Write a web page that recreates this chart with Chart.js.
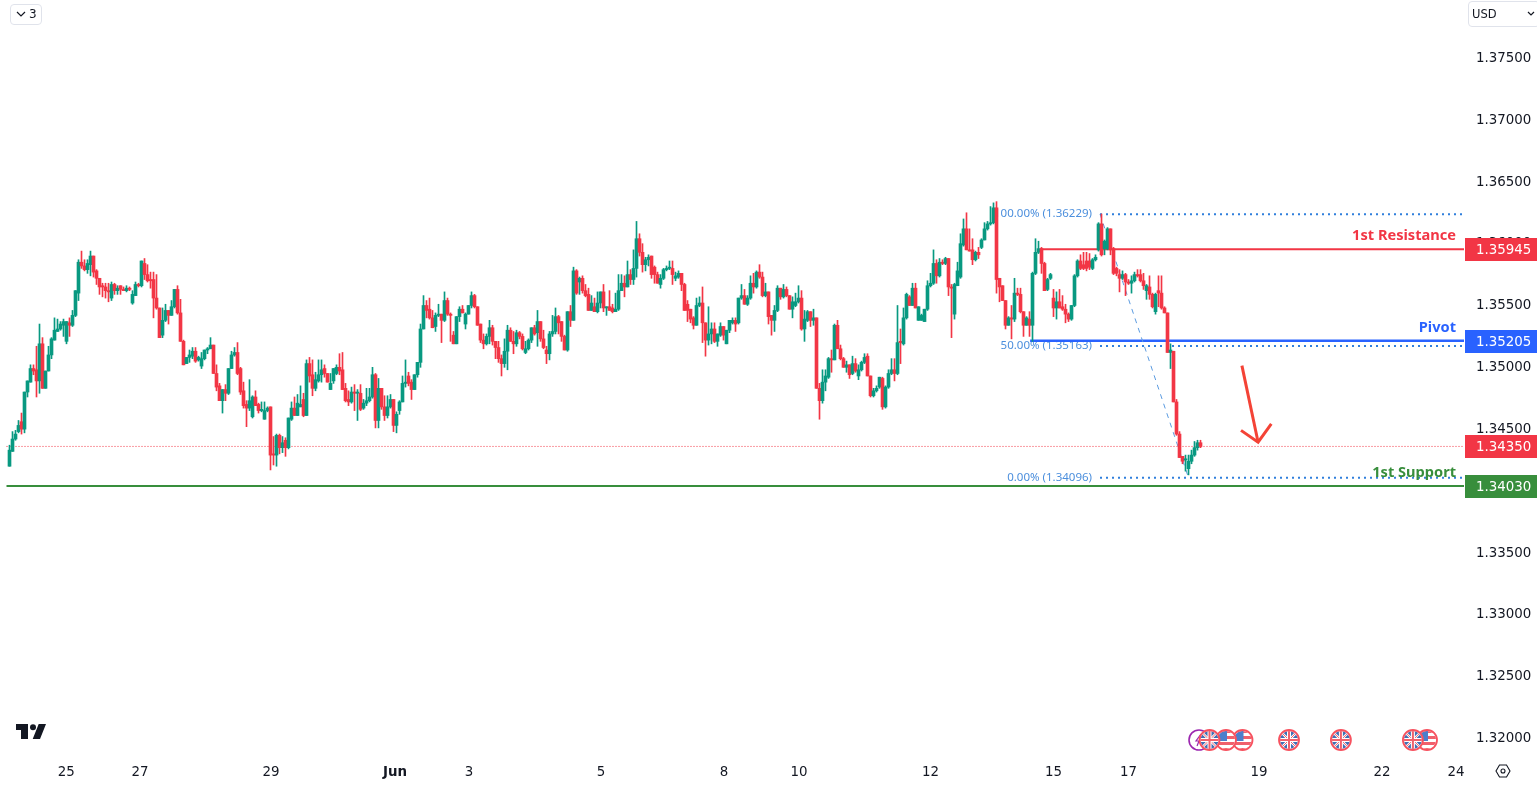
<!DOCTYPE html>
<html><head><meta charset="utf-8">
<script src="https://cdn.jsdelivr.net/npm/chart.js@4"></script>
<style>
html,body{margin:0;padding:0;background:#fff;overflow:hidden}
#wrap{position:relative;width:1537px;height:785px}
canvas{position:absolute;left:0;top:0}
.ov{position:absolute;font-family:"DejaVu Sans",sans-serif;color:#131722;box-sizing:border-box}
</style></head><body><div id="wrap"><canvas id="c" width="1537" height="785" style="width:1537px;height:785px"></canvas>
<div class="ov" style="left:10px;top:4px;width:32px;height:21px;border:1px solid #e0e3eb;border-radius:4px;font-size:12px;line-height:19px;padding-left:18px">3</div>
<svg class="ov" style="left:15px;top:10px" width="12" height="8"><path d="M2 2 L6 6 L10 2" fill="none" stroke="#131722" stroke-width="1.2"/></svg>
<div class="ov" style="left:1468px;top:1px;width:72px;height:26px;border:1px solid #e0e3eb;border-radius:4px;font-size:11.5px;line-height:24px;padding-left:3px">USD</div>
<svg class="ov" style="left:1526px;top:10px" width="10" height="8"><path d="M2 2 L5 5 L8 2" fill="none" stroke="#131722" stroke-width="1.2"/></svg>
<svg class="ov" style="left:16px;top:724px" width="31" height="16"><path d="M0 0H12V15H5V6H0Z M22.7 0H30L24 15H16.7Z" fill="#131722"/><circle cx="17" cy="3.2" r="3" fill="#131722"/></svg>
<svg class="ov" style="left:1495px;top:763px" width="16" height="16"><path d="M4.5 2H11.5L15 8L11.5 14H4.5L1 8Z" fill="none" stroke="#131722" stroke-width="1.1"/><circle cx="8" cy="8" r="2" fill="none" stroke="#131722" stroke-width="1.1"/></svg>
</div>
<script>
const opens=[
1.3419,1.3431,1.3441,1.3447,1.3455,1.3449,1.3479,1.3487,1.3498,1.3497,
1.3488,1.3518,1.3482,1.3496,1.3509,1.3521,1.3528,1.3530,1.3533,1.3520,
1.3535,1.3533,1.3541,1.3559,1.3584,1.3581,1.3578,1.3582,1.3589,1.3577,
1.3571,1.3565,1.3564,1.3561,1.3555,1.3566,1.3561,1.3565,1.3562,1.3561,
1.3563,1.3551,1.3557,1.3566,1.3565,1.3583,1.3574,1.3570,1.3570,1.3555,
1.3547,1.3525,1.3537,1.3545,1.3541,1.3548,1.3562,1.3543,1.3520,1.3502,
1.3507,1.3508,1.3512,1.3505,1.3500,1.3506,1.3513,1.3514,1.3517,1.3494,
1.3484,1.3472,1.3481,1.3478,1.3498,1.3509,1.3511,1.3498,1.3480,1.3469,
1.3466,1.3459,1.3475,1.3469,1.3464,1.3457,1.3464,1.3467,1.3429,1.3428,
1.3444,1.3434,1.3440,1.3434,1.3457,1.3466,1.3460,1.3467,1.3473,1.3460,
1.3502,1.3493,1.3482,1.3488,1.3493,1.3498,1.3494,1.3481,1.3488,1.3494,
1.3499,1.3497,1.3482,1.3473,1.3471,1.3479,1.3478,1.3478,1.3466,1.3470,
1.3472,1.3475,1.3493,1.3456,1.3482,1.3467,1.3460,1.3467,1.3473,1.3452,
1.3464,1.3471,1.3486,1.3492,1.3487,1.3481,1.3493,1.3503,1.3530,1.3549,
1.3546,1.3539,1.3532,1.3541,1.3542,1.3537,1.3553,1.3542,1.3525,1.3518,
1.3540,1.3546,1.3534,1.3542,1.3549,1.3557,1.3548,1.3534,1.3521,1.3518,
1.3524,1.3531,1.3520,1.3515,1.3506,1.3502,1.3512,1.3529,1.3520,1.3518,
1.3527,1.3524,1.3511,1.3514,1.3521,1.3531,1.3527,1.3536,1.3522,1.3513,
1.3510,1.3526,1.3528,1.3540,1.3536,1.3524,1.3513,1.3544,1.3537,1.3577,
1.3568,1.3571,1.3561,1.3558,1.3545,1.3548,1.3544,1.3551,1.3560,1.3547,
1.3548,1.3547,1.3544,1.3546,1.3561,1.3567,1.3564,1.3574,1.3570,1.3579,
1.3603,1.3592,1.3582,1.3586,1.3589,1.3580,1.3574,1.3566,1.3571,1.3578,
1.3579,1.3579,1.3571,1.3572,1.3575,1.3566,1.3550,1.3546,1.3539,1.3533,
1.3549,1.3551,1.3535,1.3521,1.3526,1.3530,1.3520,1.3525,1.3532,1.3518,
1.3529,1.3535,1.3537,1.3535,1.3555,1.3557,1.3550,1.3555,1.3567,1.3564,
1.3576,1.3572,1.3557,1.3560,1.3541,1.3537,1.3545,1.3563,1.3556,1.3562,
1.3557,1.3546,1.3549,1.3552,1.3555,1.3530,1.3537,1.3544,1.3537,1.3539,
1.3482,1.3472,1.3487,1.3491,1.3506,1.3505,1.3533,1.3514,1.3506,1.3499,
1.3501,1.3494,1.3502,1.3492,1.3497,1.3503,1.3508,1.3492,1.3476,1.3480,
1.3483,1.3490,1.3467,1.3483,1.3494,1.3497,1.3494,1.3520,1.3518,1.3539,
1.3556,1.3549,1.3563,1.3537,1.3537,1.3536,1.3546,1.3565,1.3567,1.3583,
1.3573,1.3584,1.3583,1.3587,1.3564,1.3542,1.3565,1.3572,1.3598,1.3611,
1.3594,1.3594,1.3586,1.3592,1.3596,1.3602,1.3611,1.3615,1.3616,1.3628,
1.3571,1.3565,1.3553,1.3533,1.3539,1.3538,1.3559,1.3558,1.3544,1.3533,
1.3538,1.3533,1.3575,1.3592,1.3595,1.3583,1.3562,1.3571,1.3555,1.3547,
1.3552,1.3548,1.3546,1.3542,1.3538,1.3549,1.3573,1.3585,1.3582,1.3585,
1.3585,1.3579,1.3586,1.3594,1.3615,1.3595,1.3595,1.3611,1.3595,1.3579,
1.3574,1.3571,1.3574,1.3568,1.3567,1.3569,1.3574,1.3574,1.3569,1.3561,
1.3564,1.3558,1.3544,1.3561,1.3559,1.3547,1.3543,1.3511,1.3512,1.3471,
1.3445,1.3427,1.3424,1.3417,1.3423,1.3428,1.3434,1.3438];
const highs=[
1.3436,1.3447,1.3448,1.3456,1.3462,1.3479,1.3488,1.3501,1.3501,1.3516,
1.3534,1.3523,1.3496,1.3516,1.3523,1.3539,1.3538,1.3536,1.3538,1.3536,
1.3539,1.3545,1.3561,1.3586,1.3593,1.3586,1.3586,1.3593,1.3589,1.3578,
1.3571,1.3567,1.3567,1.3567,1.3568,1.3567,1.3565,1.3565,1.3564,1.3565,
1.3564,1.3561,1.3568,1.3567,1.3585,1.3587,1.3582,1.3576,1.3576,1.3574,
1.3547,1.3547,1.3550,1.3545,1.3553,1.3562,1.3565,1.3554,1.3521,1.3507,
1.3513,1.3515,1.3515,1.3508,1.3511,1.3513,1.3515,1.3523,1.3517,1.3501,
1.3486,1.3481,1.3485,1.3498,1.3512,1.3515,1.3519,1.3499,1.3487,1.3472,
1.3489,1.3476,1.3480,1.3470,1.3471,1.3471,1.3467,1.3467,1.3443,1.3445,
1.3445,1.3443,1.3442,1.3458,1.3471,1.3475,1.3477,1.3484,1.3478,1.3505,
1.3507,1.3505,1.3495,1.3505,1.3505,1.3501,1.3494,1.3494,1.3498,1.3501,
1.3510,1.3511,1.3486,1.3480,1.3483,1.3485,1.3481,1.3485,1.3473,1.3482,
1.3482,1.3499,1.3494,1.3490,1.3482,1.3476,1.3476,1.3477,1.3473,1.3463,
1.3472,1.3492,1.3505,1.3495,1.3489,1.3493,1.3503,1.3534,1.3557,1.3553,
1.3555,1.3545,1.3543,1.3550,1.3542,1.3560,1.3555,1.3543,1.3528,1.3540,
1.3548,1.3549,1.3543,1.3549,1.3560,1.3558,1.3548,1.3534,1.3526,1.3526,
1.3537,1.3533,1.3520,1.3520,1.3509,1.3522,1.3533,1.3531,1.3528,1.3529,
1.3528,1.3526,1.3520,1.3522,1.3531,1.3533,1.3545,1.3536,1.3529,1.3516,
1.3528,1.3541,1.3547,1.3541,1.3536,1.3525,1.3544,1.3549,1.3580,1.3578,
1.3572,1.3573,1.3566,1.3563,1.3557,1.3555,1.3560,1.3560,1.3566,1.3548,
1.3561,1.3550,1.3559,1.3574,1.3574,1.3573,1.3585,1.3578,1.3594,1.3617,
1.3607,1.3599,1.3588,1.3590,1.3589,1.3581,1.3576,1.3574,1.3579,1.3581,
1.3585,1.3585,1.3576,1.3577,1.3575,1.3567,1.3553,1.3546,1.3540,1.3555,
1.3556,1.3564,1.3535,1.3548,1.3535,1.3535,1.3526,1.3535,1.3532,1.3529,
1.3537,1.3539,1.3539,1.3555,1.3566,1.3562,1.3557,1.3573,1.3575,1.3577,
1.3582,1.3576,1.3567,1.3560,1.3541,1.3549,1.3565,1.3563,1.3566,1.3564,
1.3557,1.3556,1.3559,1.3565,1.3561,1.3545,1.3545,1.3544,1.3546,1.3539,
1.3486,1.3497,1.3497,1.3507,1.3513,1.3534,1.3537,1.3517,1.3507,1.3504,
1.3501,1.3508,1.3506,1.3501,1.3504,1.3510,1.3510,1.3492,1.3482,1.3484,
1.3491,1.3491,1.3484,1.3497,1.3506,1.3506,1.3549,1.3530,1.3547,1.3559,
1.3557,1.3567,1.3567,1.3548,1.3542,1.3546,1.3569,1.3575,1.3594,1.3586,
1.3587,1.3586,1.3588,1.3587,1.3566,1.3567,1.3584,1.3607,1.3619,1.3624,
1.3611,1.3603,1.3593,1.3596,1.3603,1.3616,1.3617,1.3629,1.3632,1.3633,
1.3571,1.3565,1.3553,1.3540,1.3549,1.3571,1.3563,1.3563,1.3544,1.3540,
1.3544,1.3576,1.3603,1.3601,1.3596,1.3584,1.3571,1.3575,1.3562,1.3560,
1.3562,1.3557,1.3550,1.3543,1.3549,1.3574,1.3586,1.3590,1.3592,1.3592,
1.3591,1.3587,1.3590,1.3616,1.3623,1.3602,1.3612,1.3611,1.3596,1.3580,
1.3578,1.3577,1.3575,1.3570,1.3573,1.3576,1.3578,1.3578,1.3575,1.3566,
1.3573,1.3559,1.3559,1.3573,1.3573,1.3548,1.3543,1.3518,1.3512,1.3473,
1.3447,1.3427,1.3428,1.3428,1.3432,1.3439,1.3440,1.3440];
const lows=[
1.3419,1.3431,1.3440,1.3446,1.3445,1.3446,1.3475,1.3487,1.3493,1.3475,
1.3478,1.3482,1.3482,1.3496,1.3506,1.3521,1.3528,1.3529,1.3524,1.3518,
1.3524,1.3532,1.3540,1.3553,1.3579,1.3577,1.3575,1.3573,1.3572,1.3566,
1.3558,1.3556,1.3555,1.3552,1.3553,1.3558,1.3558,1.3558,1.3561,1.3560,
1.3561,1.3550,1.3557,1.3564,1.3564,1.3570,1.3568,1.3563,1.3539,1.3546,
1.3523,1.3523,1.3536,1.3534,1.3541,1.3547,1.3542,1.3520,1.3501,1.3502,
1.3503,1.3506,1.3503,1.3504,1.3498,1.3505,1.3510,1.3514,1.3494,1.3480,
1.3472,1.3462,1.3472,1.3477,1.3498,1.3508,1.3493,1.3477,1.3466,1.3451,
1.3464,1.3458,1.3468,1.3462,1.3463,1.3457,1.3463,1.3416,1.3420,1.3419,
1.3429,1.3430,1.3427,1.3433,1.3456,1.3460,1.3460,1.3467,1.3459,1.3460,
1.3487,1.3476,1.3480,1.3487,1.3487,1.3491,1.3487,1.3481,1.3486,1.3493,
1.3493,1.3481,1.3471,1.3468,1.3470,1.3464,1.3456,1.3464,1.3465,1.3468,
1.3471,1.3474,1.3450,1.3450,1.3465,1.3456,1.3458,1.3466,1.3447,1.3446,
1.3461,1.3471,1.3483,1.3484,1.3473,1.3481,1.3491,1.3499,1.3530,1.3539,
1.3538,1.3531,1.3528,1.3540,1.3519,1.3536,1.3541,1.3520,1.3518,1.3518,
1.3536,1.3543,1.3530,1.3542,1.3547,1.3547,1.3533,1.3519,1.3514,1.3517,
1.3518,1.3517,1.3506,1.3503,1.3492,1.3499,1.3497,1.3520,1.3510,1.3516,
1.3522,1.3513,1.3510,1.3513,1.3519,1.3525,1.3516,1.3520,1.3514,1.3502,
1.3505,1.3524,1.3526,1.3526,1.3520,1.3513,1.3512,1.3532,1.3537,1.3558,
1.3558,1.3559,1.3556,1.3545,1.3545,1.3544,1.3543,1.3547,1.3544,1.3541,
1.3545,1.3543,1.3544,1.3545,1.3561,1.3556,1.3564,1.3566,1.3566,1.3572,
1.3589,1.3576,1.3577,1.3581,1.3571,1.3567,1.3567,1.3563,1.3570,1.3577,
1.3578,1.3566,1.3569,1.3571,1.3561,1.3545,1.3536,1.3535,1.3530,1.3533,
1.3548,1.3519,1.3508,1.3517,1.3518,1.3519,1.3516,1.3524,1.3521,1.3518,
1.3527,1.3534,1.3528,1.3534,1.3554,1.3550,1.3549,1.3554,1.3559,1.3563,
1.3571,1.3556,1.3556,1.3534,1.3525,1.3528,1.3544,1.3554,1.3555,1.3556,
1.3546,1.3539,1.3548,1.3551,1.3529,1.3520,1.3536,1.3532,1.3533,1.3482,
1.3457,1.3470,1.3480,1.3490,1.3495,1.3505,1.3514,1.3505,1.3499,1.3495,
1.3490,1.3493,1.3495,1.3489,1.3496,1.3502,1.3492,1.3475,1.3475,1.3479,
1.3482,1.3465,1.3466,1.3482,1.3493,1.3488,1.3493,1.3502,1.3517,1.3538,
1.3549,1.3549,1.3547,1.3537,1.3537,1.3536,1.3545,1.3564,1.3566,1.3567,
1.3572,1.3582,1.3582,1.3557,1.3523,1.3538,1.3565,1.3571,1.3597,1.3594,
1.3593,1.3582,1.3585,1.3587,1.3595,1.3602,1.3610,1.3614,1.3615,1.3559,
1.3552,1.3553,1.3530,1.3533,1.3522,1.3536,1.3557,1.3543,1.3524,1.3533,
1.3524,1.3520,1.3574,1.3591,1.3575,1.3561,1.3561,1.3570,1.3540,1.3538,
1.3547,1.3545,1.3535,1.3536,1.3537,1.3548,1.3572,1.3578,1.3578,1.3577,
1.3578,1.3578,1.3585,1.3593,1.3589,1.3590,1.3594,1.3590,1.3574,1.3573,
1.3560,1.3570,1.3557,1.3566,1.3559,1.3568,1.3572,1.3568,1.3562,1.3554,
1.3554,1.3547,1.3542,1.3548,1.3546,1.3543,1.3511,1.3498,1.3471,1.3444,
1.3426,1.3421,1.3415,1.3412,1.3421,1.3427,1.3432,1.3434];
const closes=[
1.3432,1.3441,1.3445,1.3452,1.3449,1.3479,1.3488,1.3498,1.3496,1.3488,
1.3518,1.3482,1.3496,1.3509,1.3522,1.3529,1.3530,1.3534,1.3536,1.3536,
1.3533,1.3541,1.3561,1.3584,1.3581,1.3578,1.3583,1.3589,1.3576,1.3571,
1.3564,1.3564,1.3561,1.3560,1.3566,1.3561,1.3563,1.3562,1.3561,1.3563,
1.3562,1.3558,1.3566,1.3565,1.3585,1.3574,1.3569,1.3569,1.3555,1.3547,
1.3523,1.3537,1.3545,1.3541,1.3548,1.3562,1.3543,1.3520,1.3501,1.3507,
1.3509,1.3512,1.3504,1.3507,1.3506,1.3513,1.3514,1.3517,1.3494,1.3483,
1.3472,1.3481,1.3478,1.3498,1.3509,1.3511,1.3494,1.3479,1.3468,1.3466,
1.3472,1.3475,1.3468,1.3464,1.3465,1.3464,1.3466,1.3428,1.3428,1.3444,
1.3434,1.3438,1.3434,1.3458,1.3466,1.3460,1.3470,1.3469,1.3460,1.3502,
1.3492,1.3482,1.3489,1.3493,1.3497,1.3494,1.3487,1.3486,1.3498,1.3499,
1.3496,1.3481,1.3472,1.3471,1.3479,1.3478,1.3479,1.3465,1.3470,1.3472,
1.3475,1.3493,1.3456,1.3482,1.3467,1.3460,1.3467,1.3473,1.3452,1.3461,
1.3471,1.3486,1.3487,1.3486,1.3481,1.3493,1.3503,1.3530,1.3549,1.3545,
1.3539,1.3531,1.3541,1.3542,1.3537,1.3553,1.3542,1.3541,1.3518,1.3540,
1.3546,1.3543,1.3542,1.3549,1.3557,1.3548,1.3533,1.3521,1.3518,1.3524,
1.3531,1.3520,1.3515,1.3506,1.3502,1.3512,1.3529,1.3520,1.3518,1.3527,
1.3524,1.3514,1.3514,1.3521,1.3531,1.3526,1.3536,1.3522,1.3515,1.3510,
1.3526,1.3528,1.3540,1.3535,1.3524,1.3513,1.3544,1.3537,1.3577,1.3559,
1.3571,1.3561,1.3557,1.3545,1.3551,1.3544,1.3551,1.3560,1.3547,1.3548,
1.3545,1.3544,1.3546,1.3561,1.3567,1.3564,1.3574,1.3570,1.3579,1.3603,
1.3592,1.3582,1.3586,1.3588,1.3574,1.3574,1.3567,1.3571,1.3578,1.3579,
1.3580,1.3574,1.3573,1.3575,1.3566,1.3545,1.3545,1.3538,1.3533,1.3549,
1.3551,1.3535,1.3521,1.3526,1.3530,1.3520,1.3526,1.3532,1.3525,1.3529,
1.3537,1.3537,1.3534,1.3555,1.3557,1.3550,1.3555,1.3567,1.3564,1.3576,
1.3572,1.3557,1.3560,1.3540,1.3537,1.3545,1.3563,1.3556,1.3562,1.3557,
1.3546,1.3552,1.3552,1.3555,1.3530,1.3538,1.3544,1.3537,1.3539,1.3482,
1.3472,1.3487,1.3492,1.3506,1.3505,1.3533,1.3514,1.3506,1.3499,1.3501,
1.3493,1.3502,1.3496,1.3497,1.3503,1.3507,1.3492,1.3476,1.3480,1.3482,
1.3491,1.3467,1.3483,1.3494,1.3497,1.3494,1.3519,1.3519,1.3539,1.3558,
1.3549,1.3563,1.3547,1.3548,1.3541,1.3546,1.3565,1.3567,1.3583,1.3573,
1.3584,1.3583,1.3587,1.3564,1.3563,1.3566,1.3577,1.3599,1.3611,1.3594,
1.3593,1.3586,1.3592,1.3590,1.3602,1.3611,1.3615,1.3616,1.3628,1.3570,
1.3564,1.3553,1.3533,1.3539,1.3538,1.3559,1.3558,1.3544,1.3533,1.3539,
1.3533,1.3575,1.3592,1.3595,1.3583,1.3561,1.3570,1.3574,1.3547,1.3552,
1.3547,1.3546,1.3542,1.3538,1.3549,1.3573,1.3585,1.3579,1.3579,1.3579,
1.3580,1.3586,1.3588,1.3615,1.3590,1.3601,1.3611,1.3594,1.3575,1.3575,
1.3571,1.3574,1.3568,1.3567,1.3569,1.3574,1.3573,1.3569,1.3565,1.3565,
1.3558,1.3548,1.3558,1.3559,1.3547,1.3543,1.3511,1.3513,1.3471,1.3445,
1.3426,1.3423,1.3425,1.3423,1.3428,1.3434,1.3438,1.3435];

const priceTicks=[1.32,1.325,1.33,1.335,1.34,1.345,1.35,1.355,1.36,1.365,1.37,1.375];
const dayLabels=["25","27","29","Jun","3","5","8","10","12","15","17","19","22","24"];
const dayIndex=[18.9,43.5,87.2,128.5,153.2,197.2,238.2,263.2,307,348,373,416.5,457.5,482.2];
const resistance=1.35945, pivot=1.35205, support=1.3403, lastPrice=1.3435;
const fibPrices=[1.36229,1.35163,1.34096];
const fibNames=["100.00%","50.00%","0.00%"];
const levelStart={resistance:343.5,pivot:340.2,support:-1,last:-1,fib:363.5};
const fibDiagX=[363.5,393], fibDiagY=[1.36229,1.34096];
const arrowShaftX=[410.8,416.2], arrowShaftY=[1.35004,1.34384];
const arrowHeadX=[410.5,416.2,420.6], arrowHeadY=[1.34480,1.34384,1.34532];
const eventIdx=[396.5,400,405.5,411,426.5,443.8,467.8,472.5];
const eventKind=["e","uk","us","us","uk","uk","uk","us"];
const drawOrder=[0,3,2,1,4,5,7,6];

const GREEN="#089981",RED="#F23645",BLUE="#2962FF",SUP="#388E3C",FIB="#4C8FDD";
const XEND=484.83;
const pts=(xs,ys)=>xs.map((x,i)=>({x,y:ys[i]}));
const level=(start,p)=>[{x:start,y:p},{x:XEND,y:p}];
const up=i=>closes[i]>=opens[i];
const cols=opens.map((_,i)=>up(i)?GREEN:RED);

function flag(ctx,x,y,kind){
  const r=10;
  ctx.save();
  if(kind==="e"){
    ctx.beginPath();ctx.arc(x,y,r,0,7);ctx.fillStyle="#fff";ctx.fill();
    ctx.strokeStyle="#9C27B0";ctx.lineWidth=1.6;ctx.stroke();
    ctx.beginPath();ctx.moveTo(x+2,y-6);ctx.lineTo(x-3,y+1);ctx.lineTo(x,y+1);ctx.lineTo(x-2,y+6);
    ctx.strokeStyle="#9C27B0";ctx.lineWidth=1.2;ctx.stroke();
    ctx.restore();return;
  }
  ctx.beginPath();ctx.arc(x,y,r,0,7);ctx.fillStyle="#fff";ctx.fill();
  ctx.save();ctx.beginPath();ctx.arc(x,y,r-1,0,7);ctx.clip();
  if(kind==="uk"){
    ctx.fillStyle="#3F6FB5";ctx.fillRect(x-r,y-r,2*r,2*r);
    ctx.strokeStyle="#fff";ctx.lineWidth=2.4;
    ctx.beginPath();ctx.moveTo(x-r,y-r);ctx.lineTo(x+r,y+r);ctx.moveTo(x+r,y-r);ctx.lineTo(x-r,y+r);ctx.stroke();
    ctx.strokeStyle="#F0606C";ctx.lineWidth=1;
    ctx.beginPath();ctx.moveTo(x-r,y-r);ctx.lineTo(x+r,y+r);ctx.moveTo(x+r,y-r);ctx.lineTo(x-r,y+r);ctx.stroke();
    ctx.strokeStyle="#fff";ctx.lineWidth=4;
    ctx.beginPath();ctx.moveTo(x-r,y);ctx.lineTo(x+r,y);ctx.moveTo(x,y-r);ctx.lineTo(x,y+r);ctx.stroke();
    ctx.strokeStyle="#F0606C";ctx.lineWidth=2;
    ctx.beginPath();ctx.moveTo(x-r,y);ctx.lineTo(x+r,y);ctx.moveTo(x,y-r);ctx.lineTo(x,y+r);ctx.stroke();
  }else{
    for(let k=0;k<7;k++){ctx.fillStyle=k%2?"#fff":"#F0606C";ctx.fillRect(x-r,y-r+k*3,2*r,3);}
    ctx.fillStyle="#4C7FCB";ctx.fillRect(x-r,y-r,r+1,r+1);
  }
  ctx.restore();
  ctx.beginPath();ctx.arc(x,y,r,0,7);ctx.strokeStyle="#F7525F";ctx.lineWidth=1.8;ctx.stroke();
  ctx.restore();
}

const overlay={
  id:"overlay",
  beforeDatasetsDraw(ch){
    const c=ch.ctx,y=ch.scales.y,x=ch.scales.x;
    c.save();c.font='11.5px "Noto Sans"';c.fillStyle=FIB;c.textAlign="right";c.textBaseline="middle";
    fibPrices.forEach((p,i)=>c.fillText(fibNames[i]+" ("+p.toFixed(5)+")",x.getPixelForValue(levelStart.fib)-8,y.getPixelForValue(p)));
    c.restore();
  },
  afterDraw(ch){
    const c=ch.ctx,y=ch.scales.y,x=ch.scales.x;
    c.save();
    c.font='bold 14.6px "Noto Sans"';c.textAlign="right";c.textBaseline="middle";
    const tx=x.getPixelForValue(XEND)-8;
    c.fillStyle=RED;c.fillText("1st Resistance",tx,y.getPixelForValue(resistance)-13.5);
    c.fillStyle=BLUE;c.fillText("Pivot",tx,y.getPixelForValue(pivot)-13);
    c.fillStyle=SUP;c.fillText("1st Support",tx,y.getPixelForValue(support)-13);
    [[resistance,RED],[pivot,BLUE],[lastPrice,RED],[support,SUP]].forEach(([p,col])=>{
      const py=Math.round(y.getPixelForValue(p));
      c.fillStyle=col;c.fillRect(1465,py-11,72,23);
      c.fillStyle="#fff";c.font='13.4px "DejaVu Sans"';c.textAlign="left";c.textBaseline="middle";
      c.fillText(p.toFixed(5),1476,py+1.5);
    });
    drawOrder.forEach(k=>flag(c,x.getPixelForValue(eventIdx[k]),740,eventKind[k]));
    c.restore();
  }
};

new Chart(document.getElementById("c"),{
  type:"bar",
  data:{datasets:[
    {type:"line",label:"support",data:level(levelStart.support,support),borderColor:SUP,borderWidth:2,pointRadius:0,order:9},
    {type:"line",label:"resistance",data:level(levelStart.resistance,resistance),borderColor:RED,borderWidth:2,pointRadius:0,order:8},
    {type:"line",label:"pivot",data:level(levelStart.pivot,pivot),borderColor:BLUE,borderWidth:2.4,pointRadius:0,order:8},
    {type:"line",label:"last",data:level(levelStart.last,lastPrice),borderColor:RED,borderWidth:1,borderDash:[1,2],pointRadius:0,order:8},
    ...fibPrices.map(p=>({type:"line",label:"fib",data:level(levelStart.fib,p),borderColor:"#2F7FDC",borderWidth:2,borderDash:[2,4],pointRadius:0,order:7})),
    {type:"line",label:"fibDiag",data:pts(fibDiagX,fibDiagY),borderColor:"#5B9BE0",borderWidth:1,borderDash:[5,5],pointRadius:0,order:7},
    {label:"wicks",data:opens.map((_,i)=>({x:i,y:[lows[i],highs[i]]})),backgroundColor:cols,barThickness:1,grouped:false,order:4},
    {label:"bodies",data:opens.map((_,i)=>({x:i,y:[Math.min(opens[i],closes[i]),Math.max(opens[i],closes[i])]})),backgroundColor:cols,barThickness:3,minBarLength:1,grouped:false,order:3},
    {type:"line",label:"arrow",data:pts(arrowShaftX,arrowShaftY),borderColor:"#F44336",borderWidth:3,pointRadius:0,order:1},
    {type:"line",label:"arrowHead",data:pts(arrowHeadX,arrowHeadY),borderColor:"#F44336",borderWidth:3,pointRadius:0,order:1}
  ]},
  options:{
    responsive:false,animation:false,devicePixelRatio:1,
    layout:{padding:0},
    plugins:{legend:{display:false},tooltip:{enabled:false}},
    scales:{
      x:{type:"linear",min:-3.1667,max:XEND,offset:false,grid:{display:false,drawTicks:false},border:{display:false},
        afterBuildTicks(a){a.ticks=dayIndex.map(v=>({value:v}));},
        afterFit(a){a.height=28;a.paddingLeft=0;a.paddingRight=0;},
        ticks:{autoSkip:false,maxRotation:0,padding:7,color:"#131722",
          font:c=>({family:'"DejaVu Sans"',size:13.4,weight:dayLabels[c.index]==="Jun"?"bold":"normal"}),
          callback:(v,i)=>dayLabels[i]}},
      y:{type:"linear",position:"right",min:1.31838,max:1.37961,grid:{display:false,drawTicks:false},border:{display:false},
        afterBuildTicks(a){a.ticks=priceTicks.map(v=>({value:v}));},
        afterFit(a){a.width=73;a.paddingTop=0;a.paddingBottom=0;},
        ticks:{autoSkip:false,padding:12,labelOffset:1.5,color:"#131722",font:{family:'"DejaVu Sans"',size:13.4},callback:v=>v.toFixed(5)}}
    }
  },
  plugins:[overlay]
});
</script></body></html>
